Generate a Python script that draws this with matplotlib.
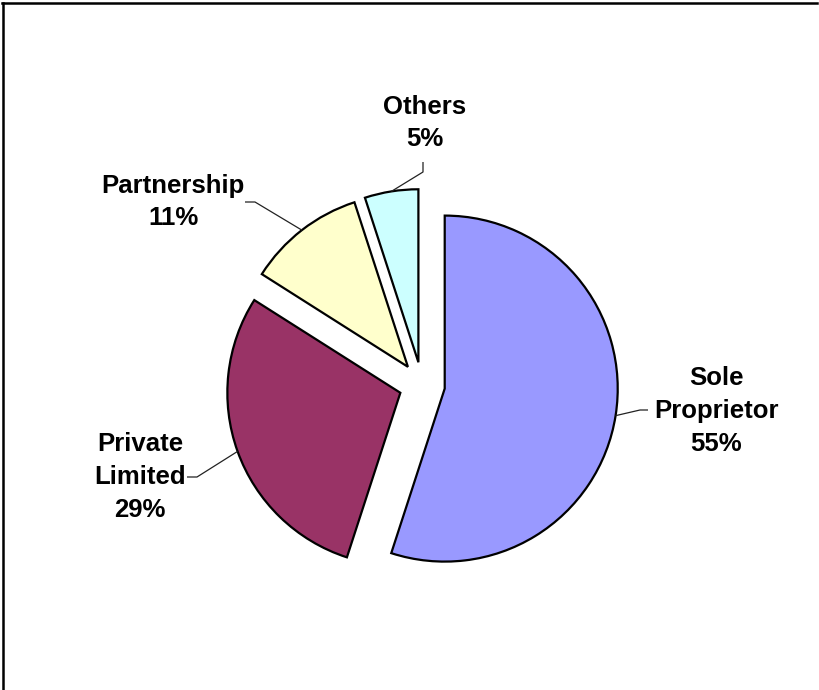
import numpy as np
import matplotlib
matplotlib.use("Agg")
import matplotlib.pyplot as plt
from matplotlib.lines import Line2D

# ---- data ----
categories = ["Sole\nProprietor", "Private\nLimited", "Partnership", "Others"]
shares = [55, 29, 11, 5]
colors = ["#9999FF", "#993366", "#FFFFCC", "#CCFFFF"]

W, H = 819, 690
fig = plt.figure(figsize=(W / 100, H / 100), dpi=100)
ax = fig.add_axes([0, 0, 1, 1])

R = 173
cx, cy = 422, H - 385
wedges, _ = ax.pie(shares, startangle=90, counterclock=False,
                   explode=[23] * len(shares), radius=R, center=(cx, cy),
                   colors=colors,
                   wedgeprops=dict(edgecolor="black", linewidth=1.6))
ax.set_xlim(0, W)
ax.set_ylim(0, H)
ax.set_aspect("equal")
ax.axis("off")

# label layout: text centre (px, top-origin), elbow point, end point
layout = [
    dict(text=(716, 411), elbow=(640, 410), end=(648, 410)),
    dict(text=(140, 477), elbow=(197, 477), end=(187, 477)),
    dict(text=(173, 202), elbow=(255, 202), end=(245, 202)),
    dict(text=(425, 123), elbow=(423, 172), end=(423, 162)),
]

for w, cat, val, lay in zip(wedges, categories, shares, layout):
    tm = np.deg2rad((w.theta1 + w.theta2) / 2)
    wx, wy = w.center
    px = wx + w.r * np.cos(tm)
    py = wy + w.r * np.sin(tm)
    ex, ey = lay["elbow"]
    nx, ny = lay["end"]
    ax.plot([px, ex, nx], [py, H - ey, H - ny], color="#222222", lw=0.9,
            solid_capstyle="butt", zorder=1)
    tx, ty = lay["text"]
    ax.text(tx, H - ty, f"{cat}\n{val}%", ha="center", va="center",
            multialignment="center", fontsize=18.5, fontweight="bold",
            family=["Liberation Sans", "DejaVu Sans"], linespacing=1.45)

# frame (top and left edges visible)
fig.add_artist(Line2D([0.002, 0.998], [1 - 2.5 / H, 1 - 2.5 / H],
                      transform=fig.transFigure, color="black", lw=1.8))
fig.add_artist(Line2D([2.5 / W, 2.5 / W], [0, 1 - 2.5 / H],
                      transform=fig.transFigure, color="black", lw=1.8))

fig.savefig("out.png", dpi=100, facecolor="white")
